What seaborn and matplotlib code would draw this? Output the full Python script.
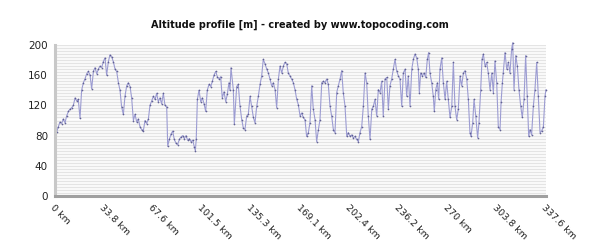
import matplotlib
matplotlib.use("Agg")
import matplotlib.pyplot as plt
import seaborn as sns
import pandas as pd
from matplotlib.ticker import MultipleLocator

# distance along route [km]
dist_km = [
    0.0, 1.1, 2.3, 3.4, 4.6, 5.7, 6.9, 8.0, 9.2, 10.3, 11.5, 12.6, 13.8, 14.9, 16.0, 17.2,
    18.3, 19.5, 20.6, 21.8, 22.9, 24.1, 25.2, 26.4, 27.5, 28.7, 29.8, 30.9, 32.1, 33.2, 34.4,
    35.5, 36.7, 37.8, 39.0, 40.1, 41.3, 42.4, 43.6, 44.7, 45.8, 47.0, 48.1, 49.3, 50.4, 51.6,
    52.7, 53.9, 55.0, 56.2, 57.3, 58.4, 59.6, 60.7, 61.9, 63.0, 64.2, 65.3, 66.5, 67.6, 68.8,
    69.9, 71.0, 72.2, 73.3, 74.5, 75.6, 76.8, 77.5, 78.6, 79.8, 80.9, 82.0, 83.2, 84.3, 85.5,
    86.6, 87.8, 88.9, 90.1, 91.2, 92.4, 93.5, 94.7, 95.8, 96.5, 97.1, 97.9, 99.0, 100.2, 101.3,
    102.5, 103.6, 104.7, 105.9, 107.1, 108.2, 109.3, 110.5, 111.6, 112.8, 113.9, 115.0, 116.2,
    117.4, 118.5, 119.6,
    120.3, 121.0, 122.6, 123.3, 124.9, 126.0, 127.2, 128.4, 129.5, 130.6, 131.8, 132.9, 134.1,
    135.2, 136.4, 137.5, 138.7, 139.8, 141.0, 142.1, 143.2, 144.4, 145.6, 146.7, 147.8, 149.0,
    150.1, 151.3, 152.4, 153.6, 154.7, 155.9, 157.0, 158.1, 159.3, 160.4, 161.6, 162.7, 163.9,
    165.0, 166.2, 167.3, 168.5, 169.6, 170.7, 171.9, 173.0, 174.2, 175.3, 176.5, 177.6, 178.8,
    179.9, 181.1, 182.2, 183.4, 184.5, 185.6, 186.8, 187.9, 189.1, 190.2, 191.4, 192.5, 193.7,
    194.8, 196.0, 197.1, 198.2, 199.4, 200.6, 201.7, 202.8, 204.0, 205.1, 206.3, 207.4, 208.6,
    209.7, 210.9, 212.0, 213.2, 214.3, 215.4, 216.6, 217.8, 218.9, 220.0, 221.2, 222.3, 223.5,
    224.6, 225.7, 226.9, 228.1, 229.2, 230.3, 231.5, 232.6, 233.8, 234.9, 236.1,
    237.2, 238.4, 239.5, 240.7, 241.8, 242.9, 244.1, 245.3, 246.4, 247.5, 248.7, 249.8, 250.5,
    251.4, 252.6, 253.7, 254.9, 256.0, 256.9, 257.8, 259.0, 260.1, 260.8, 261.8, 262.9, 263.8,
    264.7, 265.9, 267.0, 268.2, 269.3, 270.4, 271.6, 272.8, 273.9, 275.0, 276.2, 277.3, 278.5,
    279.6, 280.8, 281.9, 283.1, 284.2, 285.3, 286.0, 287.2, 288.1, 289.3, 290.6, 291.5, 292.7,
    293.6, 294.5, 295.7, 296.8, 297.9, 299.1, 300.3, 301.4, 302.5, 303.7, 304.8, 306.0, 306.7,
    307.6, 308.2, 309.4, 310.6, 311.7, 312.8, 314.0, 314.7, 315.6, 316.8, 317.9, 319.0, 320.2,
    321.3, 322.5, 323.6, 324.7, 325.7, 326.6, 327.7, 328.9, 330.0, 331.2, 332.3, 333.5, 334.6,
    335.8, 336.9, 337.6,
]

# altitude [m]
altitude_m = [
    75, 85, 92, 98, 96, 102, 97, 106, 112, 115, 117, 120, 130, 126, 128, 103,
    140, 150, 155, 162, 165, 160, 142, 165, 170, 162, 168, 172, 170, 178, 183,
    160, 178, 187, 184, 178, 168, 165, 150, 140, 118, 108, 132, 146, 150, 145,
    130, 100, 108, 98, 102, 92, 88, 86, 100, 96, 102, 120, 126, 132, 128,
    136, 125, 130, 122, 136, 120, 118, 66, 75, 82, 86, 75, 70, 68, 75,
    78, 80, 76, 80, 74, 76, 72, 74, 65, 60, 75, 128, 140, 125, 130,
    122, 112, 140, 148, 145, 152, 160, 165, 158, 155, 158, 130, 138,
    125, 135, 150,
    140, 170, 141, 95, 145, 148, 119, 101, 90, 88, 106, 108, 132,
    119, 104, 97, 119, 132, 148, 159, 181, 175, 168, 163, 155, 146,
    150, 141, 117, 155, 172, 163, 172, 177, 175, 163, 159, 155, 150,
    141, 128, 121, 106, 110, 104, 101, 79, 84, 97, 146, 115, 101,
    72, 88, 101, 150, 152, 150, 155, 148, 119, 106, 88, 84, 137,
    146, 155, 166, 137, 119, 79, 84, 79, 81, 77, 79, 75, 72,
    84, 92, 119, 163, 150, 106, 75, 115, 119, 128, 106, 141, 137,
    152, 106, 155, 157, 115, 146, 155, 168, 181, 166, 159,
    155, 119, 163, 168, 132, 159, 119, 168, 181, 188, 183, 168, 137,
    163, 159, 163, 157, 181, 190, 163, 150, 132, 112, 141, 150, 128,
    168, 183, 150, 128, 152, 128, 104, 119, 177, 119, 101, 115, 159,
    146, 163, 166, 155, 128, 84, 79, 97, 128, 106, 77, 97, 141,
    181, 188, 172, 177, 163, 141, 163, 137, 179, 150, 92, 88, 124,
    150, 163, 190, 168, 177, 163, 195, 203, 141, 186, 172, 141, 119,
    104, 128, 186, 132, 79, 88, 81, 119, 141, 177, 132, 84, 86,
    92, 132, 141,
]

tick_km = [0, 33.76, 67.52, 101.28, 135.04, 168.8, 202.56, 236.32, 270.08, 303.84, 337.6]
tick_labels = ["0 km", "33.8 km", "67.6 km", "101.5 km", "135.3 km", "169.1 km",
               "202.4 km", "236.2 km", "270 km", "303.8 km", "337.6 km"]
y_ticks = [0, 40, 80, 120, 160, 200]

df = pd.DataFrame({"km": dist_km, "alt": altitude_m})

sns.set_style("white")
plt.rcParams["font.family"] = ["DejaVu Sans"]

fig = plt.figure(figsize=(6, 2.5), dpi=100)
ax = fig.add_axes([55 / 600, 1 - 196 / 250, 491 / 600, 151 / 250])

# striped background
ax.yaxis.set_minor_locator(MultipleLocator(4))
ax.grid(True, which="both", axis="y", color="#e4e4e4", linewidth=1.0)
ax.grid(False, axis="x")
ax.set_axisbelow(True)

sns.lineplot(data=df, x="km", y="alt", ax=ax, sort=False, estimator=None,
             color="#9c9cd2", linewidth=0.8, marker=".", markersize=0.9,
             markerfacecolor="#5a5a8e", markeredgecolor="#5a5a8e", clip_on=False)

ax.set_xlim(0, 337.6)
ax.set_ylim(0, 200)
ax.set_xticks(tick_km)
ax.set_xticklabels(tick_labels, rotation=-45, ha="left", va="top",
                   rotation_mode="anchor", fontsize=6.8, color="#222222")
ax.set_yticks(y_ticks)
ax.set_yticklabels([str(v) for v in y_ticks], fontsize=7.5, color="#222222")
ax.tick_params(axis="both", which="major", length=3, width=0.8, color="#999999", pad=2)
ax.tick_params(axis="y", which="minor", length=0)
ax.set_xlabel("")
ax.set_ylabel("")

for s in ["top", "right"]:
    ax.spines[s].set_visible(False)
ax.spines["left"].set_color("#c8c8c8")
ax.spines["left"].set_linewidth(2.2)
ax.spines["bottom"].set_color("#a0a0a0")
ax.spines["bottom"].set_linewidth(2.2)

fig.text(0.5, 1 - 25 / 250, "Altitude profile [m] - created by www.topocoding.com",
         ha="center", va="center", fontsize=7, fontweight="bold", color="#111111")

fig.savefig("out.png", dpi=100, facecolor="white")
